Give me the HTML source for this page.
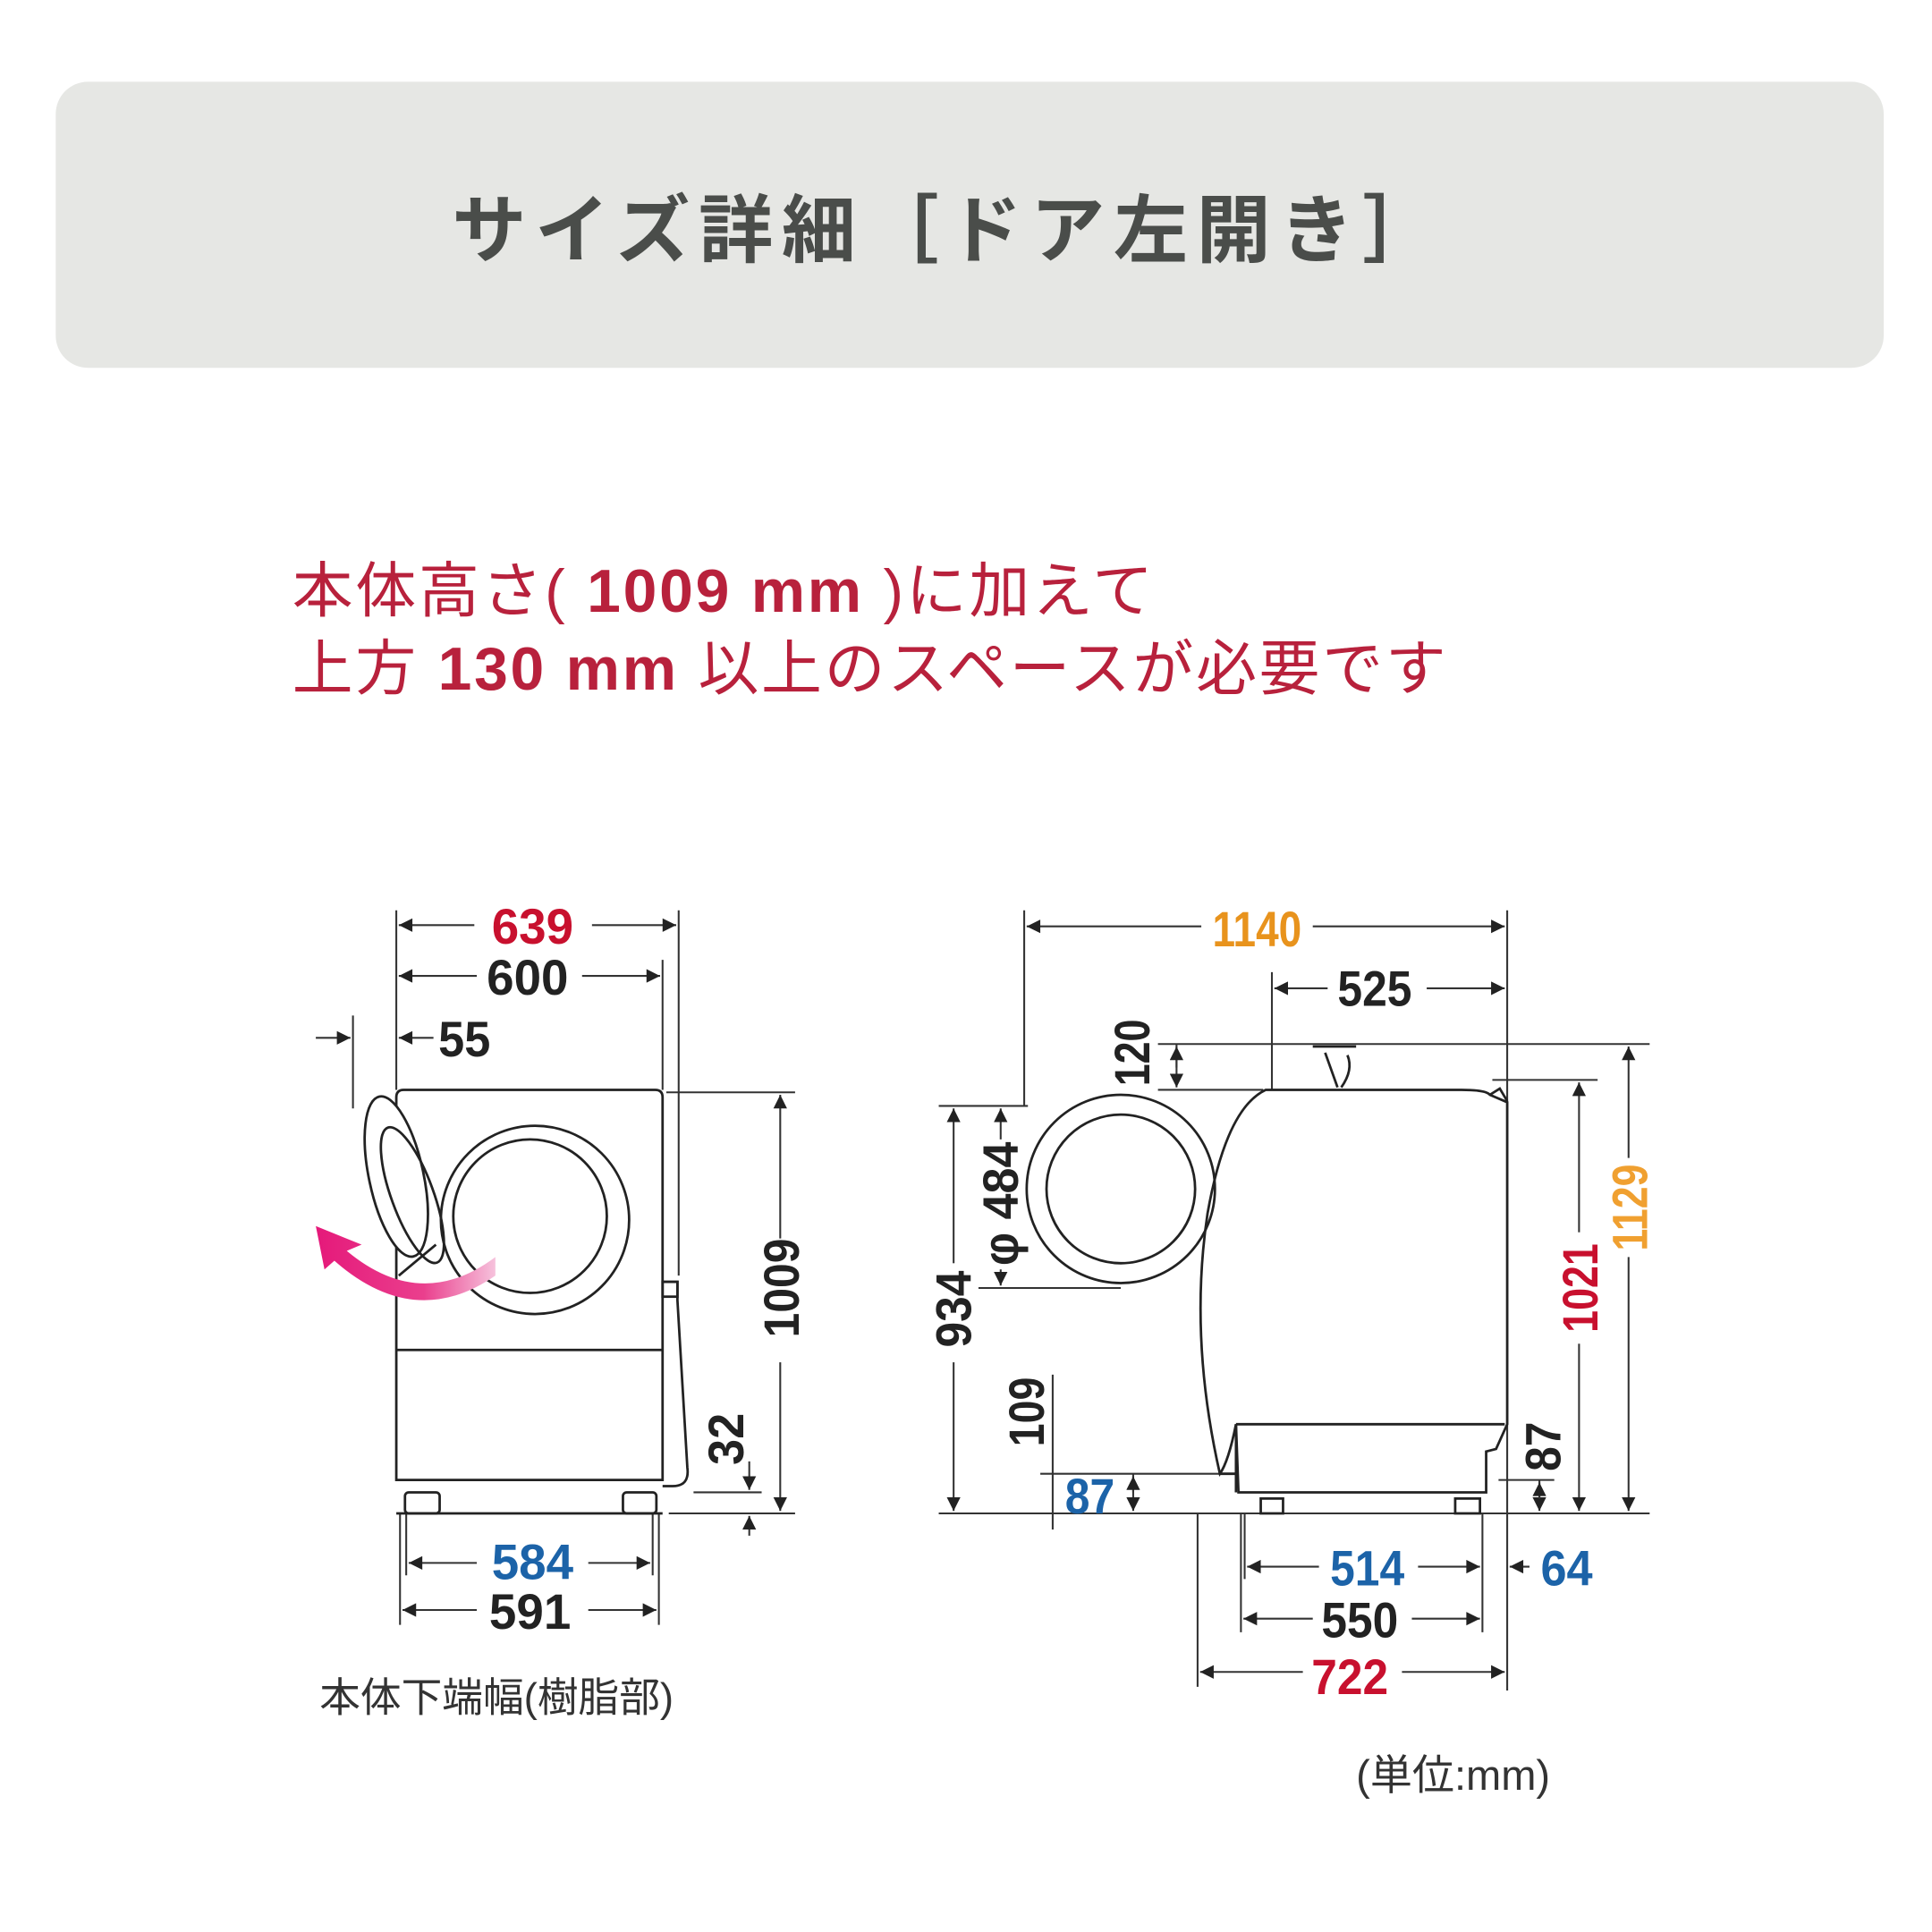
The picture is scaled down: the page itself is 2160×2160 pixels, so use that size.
<!DOCTYPE html>
<html><head><meta charset="utf-8"><style>
html,body{margin:0;padding:0;background:#fff}
svg{display:block}
.n{font-family:"Liberation Sans",sans-serif;font-weight:bold;font-size:40px;text-anchor:middle}
.l{stroke:#222;stroke-width:2;fill:none}
.t{stroke:#333;stroke-width:1.5;fill:none}
</style></head><body>
<svg width="2160" height="2160" viewBox="0 0 1560 1560" xmlns="http://www.w3.org/2000/svg">
<defs>
<marker id="a" viewBox="0 0 10 10" refX="10" refY="5" markerWidth="12" markerHeight="11" orient="auto-start-reverse" markerUnits="userSpaceOnUse"><path d="M0,0L10,5L0,10z" fill="#222"/></marker>
</defs>
<rect x="45" y="66" width="1476" height="231" rx="26" fill="#e6e7e4"/>
<text x="766" y="207" font-family="'Liberation Sans','Noto Sans CJK JP',sans-serif" font-weight="bold" font-size="60" fill="#4a4d4a" text-anchor="middle" letter-spacing="7">サイズ詳細［ドア左開き］</text>

<g font-family="'Liberation Sans','Noto Sans CJK JP',sans-serif" fill="#b8213c" font-size="49" letter-spacing="2">
<text x="236" y="494">本体高さ( <tspan font-weight="bold">1009 mm</tspan> )に加えて</text>
<text x="236" y="557">上方 <tspan font-weight="bold">130 mm</tspan> 以上のスペースが必要です</text>
</g>

<!-- LEFT VIEW -->
<g class="t">
<line x1="320" y1="735" x2="320" y2="880"/><line x1="548" y1="735" x2="548" y2="1030"/>
<line x1="535" y1="775" x2="535" y2="880"/><line x1="285" y1="820" x2="285" y2="895"/>
<line x1="538" y1="882" x2="642" y2="882"/><line x1="540" y1="1222" x2="642" y2="1222"/>
<line x1="560" y1="1205" x2="615" y2="1205"/>
<line x1="323" y1="1222" x2="323" y2="1312"/><line x1="532" y1="1222" x2="532" y2="1312"/>
<line x1="328" y1="1222" x2="328" y2="1272"/><line x1="527" y1="1222" x2="527" y2="1272"/>
</g>
<g class="t" marker-start="url(#a)" marker-end="url(#a)">
<line x1="322" y1="747" x2="546" y2="747"/>
<line x1="322" y1="788" x2="533" y2="788"/>
<line x1="630" y1="884" x2="630" y2="1220"/>
<line x1="330" y1="1262" x2="525" y2="1262"/>
<line x1="325" y1="1300" x2="530" y2="1300"/>
</g>
<g class="t"><line x1="255" y1="838" x2="283" y2="838" marker-end="url(#a)"/><line x1="350" y1="838" x2="322" y2="838" marker-end="url(#a)"/>
<line x1="605" y1="1180" x2="605" y2="1203" marker-end="url(#a)"/><line x1="605" y1="1240" x2="605" y2="1224" marker-end="url(#a)"/></g>
<g fill="#fff"><rect x="383" y="725" width="95" height="45"/><rect x="385" y="766" width="85" height="45"/><rect x="608" y="1000" width="45" height="100"/><rect x="385" y="1240" width="90" height="45"/><rect x="385" y="1278" width="90" height="45"/></g>
<text class="n" x="430" y="762" fill="#c8102e" textLength="66" lengthAdjust="spacingAndGlyphs">639</text>
<text class="n" x="426" y="803" fill="#222" textLength="66" lengthAdjust="spacingAndGlyphs">600</text>
<text class="n" x="375" y="853" fill="#222" textLength="42" lengthAdjust="spacingAndGlyphs">55</text>
<text class="n" x="430" y="1275" fill="#1c63a8" textLength="66" lengthAdjust="spacingAndGlyphs">584</text>
<text class="n" x="428" y="1315" fill="#222" textLength="66" lengthAdjust="spacingAndGlyphs">591</text>
<text class="n" transform="translate(645,1040) rotate(-90)" fill="#222" textLength="80" lengthAdjust="spacingAndGlyphs">1009</text>
<text class="n" transform="translate(600,1162) rotate(-90)" fill="#222" textLength="42" lengthAdjust="spacingAndGlyphs">32</text>

<g class="l">
<path d="M320,1195 V886 Q320,880 326,880 H529 Q535,880 535,886 V1195 Z" fill="#fff"/>
<line x1="320" y1="1090" x2="535" y2="1090"/>
<circle cx="432" cy="985" r="76"/><circle cx="428" cy="982" r="62"/>
<path d="M535,1035 h12 v15 l8,135 q2,15 -12,15 h-8"/><rect x="535" y="1035" width="12" height="12"/>
<rect x="327" y="1205" width="28" height="17" rx="3"/><rect x="503" y="1205" width="27" height="17" rx="3"/>
<line x1="320" y1="1222" x2="535" y2="1222"/>
<ellipse cx="320" cy="950" rx="22" ry="66" transform="rotate(-12 320 950)" fill="#fff"/>
<ellipse cx="333" cy="965" rx="17" ry="58" transform="rotate(-20 333 965)"/>
<path d="M322,1030 L352,1005"/>
</g>
<defs><linearGradient id="pg" x1="0" x2="1"><stop offset="0" stop-color="#e5197a"/><stop offset="0.6" stop-color="#ea3f8d"/><stop offset="1" stop-color="#f6c2dc"/></linearGradient></defs>
<path d="M400,1015 Q340,1060 280,1010 L292,1005 L255,990 L262,1025 L270,1018 Q335,1075 400,1030 Z" fill="url(#pg)"/>
<text x="258" y="1382" font-family="'Liberation Sans','Noto Sans CJK JP',sans-serif" font-size="33" fill="#333">本体下端幅(樹脂部)</text>

<!-- RIGHT VIEW -->
<g class="t">
<line x1="827" y1="735" x2="827" y2="893"/><line x1="1217" y1="735" x2="1217" y2="1365"/>
<line x1="1027" y1="785" x2="1027" y2="880"/>
<line x1="935" y1="843" x2="1332" y2="843"/><line x1="935" y1="880" x2="1020" y2="880"/>
<line x1="1205" y1="872" x2="1290" y2="872"/>
<line x1="758" y1="893" x2="830" y2="893"/><line x1="790" y1="1040" x2="905" y2="1040"/>
<line x1="758" y1="1222" x2="1332" y2="1222"/>
<line x1="840" y1="1190" x2="998" y2="1190"/><line x1="1210" y1="1195" x2="1255" y2="1195"/>
<line x1="1005" y1="1222" x2="1005" y2="1275"/><line x1="1002" y1="1222" x2="1002" y2="1318"/>
<line x1="1197" y1="1222" x2="1197" y2="1318"/><line x1="967" y1="1222" x2="967" y2="1362"/>
<line x1="850" y1="1110" x2="850" y2="1235"/>
</g>
<g class="t" marker-start="url(#a)" marker-end="url(#a)">
<line x1="829" y1="748" x2="1215" y2="748"/>
<line x1="1029" y1="798" x2="1215" y2="798"/>
<line x1="770" y1="895" x2="770" y2="1220"/>
<line x1="808" y1="895" x2="808" y2="1038"/>
<line x1="1275" y1="874" x2="1275" y2="1220"/>
<line x1="1315" y1="845" x2="1315" y2="1220"/>
<line x1="1007" y1="1265" x2="1195" y2="1265"/>
<line x1="1004" y1="1307" x2="1195" y2="1307"/>
<line x1="969" y1="1350" x2="1215" y2="1350"/>
</g>
<g class="t"><line x1="950" y1="843" x2="950" y2="878" marker-end="url(#a)"/><line x1="950" y1="862" x2="950" y2="845" marker-end="url(#a)"/>
<line x1="915" y1="1190" x2="915" y2="1220" marker-end="url(#a)"/><line x1="915" y1="1205" x2="915" y2="1192" marker-end="url(#a)"/>
<line x1="1243" y1="1195" x2="1243" y2="1220" marker-end="url(#a)"/><line x1="1243" y1="1210" x2="1243" y2="1197" marker-end="url(#a)"/>
<line x1="1260" y1="1265" x2="1219" y2="1265" marker-end="url(#a)"/></g>
<g fill="#fff"><rect x="970" y="728" width="90" height="45"/><rect x="1072" y="776" width="80" height="45"/><rect x="750" y="1020" width="40" height="80"/><rect x="790" y="920" width="40" height="105"/>
<rect x="1255" y="995" width="40" height="90"/><rect x="1295" y="935" width="40" height="80"/><rect x="1065" y="1243" width="80" height="45"/><rect x="1060" y="1285" width="80" height="45"/><rect x="1052" y="1328" width="80" height="45"/><rect x="1235" y="1245" width="55" height="45"/></g>
<text class="n" x="1015" y="764" fill="#e8931d" textLength="72" lengthAdjust="spacingAndGlyphs">1140</text>
<text class="n" x="1110" y="812" fill="#222" textLength="60" lengthAdjust="spacingAndGlyphs">525</text>
<text class="n" transform="translate(928,850) rotate(-90)" fill="#222" textLength="54" lengthAdjust="spacingAndGlyphs">120</text>
<text class="n" transform="translate(784,1057) rotate(-90)" fill="#222" textLength="62" lengthAdjust="spacingAndGlyphs">934</text>
<text class="n" transform="translate(822,972) rotate(-90)" fill="#222" textLength="100" lengthAdjust="spacingAndGlyphs">φ 484</text>
<text class="n" transform="translate(843,1140) rotate(-90)" fill="#222" textLength="56" lengthAdjust="spacingAndGlyphs">109</text>
<text class="n" x="880" y="1222" fill="#1c63a8" textLength="40" lengthAdjust="spacingAndGlyphs">87</text>
<text class="n" transform="translate(1260,1168) rotate(-90)" fill="#222" textLength="40" lengthAdjust="spacingAndGlyphs">87</text>
<text class="n" transform="translate(1290,1040) rotate(-90)" fill="#c8102e" textLength="72" lengthAdjust="spacingAndGlyphs">1021</text>
<text class="n" transform="translate(1330,975) rotate(-90)" fill="#f0a030" textLength="70" lengthAdjust="spacingAndGlyphs">1129</text>
<text class="n" x="1104" y="1280" fill="#1c63a8" textLength="60" lengthAdjust="spacingAndGlyphs">514</text>
<text class="n" x="1265" y="1280" fill="#1c63a8" textLength="42" lengthAdjust="spacingAndGlyphs">64</text>
<text class="n" x="1098" y="1322" fill="#222" textLength="62" lengthAdjust="spacingAndGlyphs">550</text>
<text class="n" x="1090" y="1368" fill="#c8102e" textLength="62" lengthAdjust="spacingAndGlyphs">722</text>

<g class="l">
<circle cx="905" cy="960" r="76"/><circle cx="905" cy="960" r="60"/>
<path d="M1022,880 H1180 Q1200,880 1203,884 L1217,890 V1150 L1208,1170 L1200,1172 V1205 H1000 L998,1150 Q992,1180 985,1190 Q960,1080 975,980 Q990,895 1022,880 Z" fill="none"/>
<path d="M998,1150 H1215"/><path d="M998,1150 V1205"/>
<path d="M985,1190 H1000"/>
<rect x="1018" y="1210" width="18" height="12"/><rect x="1175" y="1210" width="20" height="12"/>
<path d="M1060,845 h35 M1070,850 l10,28 M1088,852 q5,12 -5,26"/>
<path d="M1203,884 l8,-5 l6,10"/>
</g>
<text x="1095" y="1445" font-family="'Liberation Sans','Noto Sans CJK JP',sans-serif" font-size="34" fill="#333">(単位:mm)</text>
</svg>
</body></html>
